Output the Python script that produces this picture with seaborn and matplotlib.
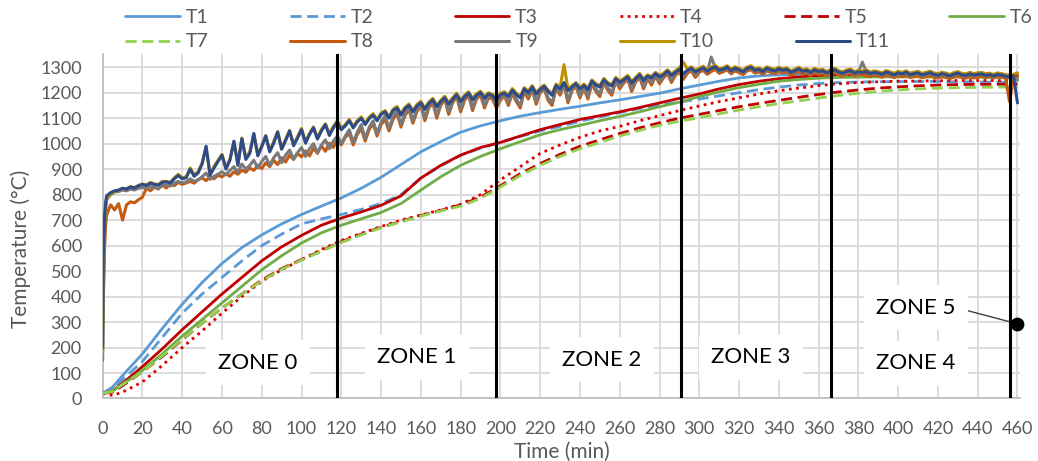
import numpy as np
import pandas as pd
import matplotlib
matplotlib.use("Agg")
import matplotlib.pyplot as plt
import seaborn as sns

# ---------------- data ----------------
# time grid (min) for the smooth thermocouple curves
t_smooth = [0, 5] + list(range(10, 461, 10))

T1 = [20, 45, 90, 175, 275, 370, 455, 530, 592, 642, 685, 722, 755, 787, 825, 868, 918, 968,
      1008, 1045, 1070, 1090, 1108, 1122, 1135, 1147, 1160, 1172, 1185, 1198, 1215, 1230,
      1245, 1258, 1266, 1270, 1272, 1273, 1272, 1271, 1270, 1270, 1269, 1268, 1268, 1267,
      1266, 1265]
T2 = [20, 38, 75, 145, 240, 335, 410, 475, 540, 600, 645, 685, 705, 722, 742, 765, 800, 865,
      912, 955, 982, 1005, 1028, 1050, 1068, 1088, 1105, 1122, 1138, 1152, 1163, 1175, 1188,
      1200, 1212, 1222, 1230, 1236, 1240, 1242, 1243, 1244, 1244, 1244, 1243, 1242, 1241,
      1240]
T3 = [20, 30, 60, 125, 195, 270, 340, 410, 475, 540, 595, 640, 680, 708, 732, 758, 795, 865,
      915, 955, 985, 1005, 1030, 1055, 1075, 1095, 1110, 1125, 1142, 1160, 1178, 1195, 1215,
      1232, 1245, 1255, 1262, 1267, 1270, 1271, 1272, 1272, 1272, 1272, 1272, 1271, 1270,
      1268]
T4 = [20, 12, 25, 65, 130, 200, 265, 335, 400, 460, 505, 545, 585, 620, 648, 675, 700, 720,
      740, 762, 800, 858, 910, 962, 995, 1025, 1050, 1068, 1090, 1110, 1130, 1148, 1165,
      1180, 1195, 1208, 1218, 1228, 1235, 1240, 1243, 1245, 1246, 1247, 1248, 1248, 1248,
      1248]
T5 = [20, 25, 50, 105, 165, 230, 295, 355, 410, 465, 510, 545, 580, 615, 645, 672, 695, 718,
      738, 760, 790, 835, 882, 922, 958, 990, 1015, 1040, 1062, 1082, 1100, 1115, 1130, 1145,
      1158, 1170, 1182, 1193, 1203, 1211, 1218, 1223, 1227, 1230, 1232, 1233, 1233, 1233]
T6 = [20, 30, 55, 110, 175, 245, 310, 375, 440, 505, 560, 610, 650, 680, 705, 730, 765, 818,
      870, 915, 950, 980, 1008, 1035, 1055, 1072, 1090, 1107, 1125, 1145, 1163, 1185, 1203,
      1220, 1233, 1245, 1252, 1257, 1260, 1261, 1262, 1262, 1262, 1261, 1261, 1260, 1259,
      1258]
T7 = [20, 28, 55, 105, 168, 232, 295, 355, 410, 462, 507, 543, 578, 612, 642, 670, 693, 716,
      736, 755, 785, 830, 875, 915, 950, 980, 1005, 1030, 1052, 1072, 1088, 1102, 1117, 1132,
      1145, 1157, 1168, 1179, 1189, 1198, 1205, 1211, 1215, 1218, 1220, 1221, 1222, 1222]

# time grid (min) for the furnace-gas thermocouples
t_fire = [0, 0.3, 0.7, 1, 1.5] + list(range(2, 461, 2))

T8 = [270, 380, 500, 600, 680,
      720, 760, 740, 765, 700, 760, 772, 768, 780, 790,
      825, 815, 830, 822, 838, 826, 842, 835, 848, 840,
      846, 852, 845, 858, 866, 855, 870, 862, 876, 870,
      882, 872, 890, 880, 896, 888, 905, 895, 915, 902,
      925, 910, 935, 918, 945, 928, 955, 938, 962, 948,
      972, 952, 982, 962, 992, 970, 1002, 985, 1015, 995,
      1025, 1040, 995, 1035, 1060, 1010, 1055, 1078, 1030, 1075,
      1095, 1050, 1095, 1118, 1065, 1110, 1135, 1080, 1125, 1150,
      1090, 1140, 1160, 1100, 1150, 1175, 1115, 1160, 1185, 1125,
      1170, 1190, 1130, 1175, 1190, 1140, 1180, 1175, 1140, 1170,
      1188, 1150, 1198, 1165, 1140, 1205, 1175, 1212, 1155, 1200,
      1215, 1170, 1150, 1218, 1190, 1230, 1160, 1208, 1225, 1180,
      1218, 1175, 1235, 1205, 1185, 1240, 1210, 1190, 1245, 1215,
      1238, 1252, 1205, 1242, 1260, 1215, 1254, 1230, 1265, 1235,
      1258, 1275, 1240, 1268, 1282, 1252, 1276, 1286, 1260, 1280,
      1288, 1272, 1283, 1292, 1276, 1282, 1290, 1274, 1286, 1279,
      1271, 1285, 1290, 1277, 1282, 1272, 1286, 1279, 1274, 1284,
      1277, 1282, 1269, 1275, 1284, 1273, 1278, 1268, 1280, 1272,
      1275, 1267, 1273, 1280, 1270, 1265, 1272, 1277, 1266, 1271,
      1273, 1266, 1264, 1269, 1266, 1261, 1270, 1265, 1259, 1267,
      1263, 1269, 1260, 1264, 1267, 1259, 1263, 1268, 1261, 1257,
      1264, 1260, 1255, 1262, 1266, 1259, 1257, 1263, 1258, 1261,
      1268, 1260, 1265, 1258, 1266, 1261, 1257, 1165, 1255, 1262]
T9 = [150, 400, 560, 660, 740,
      780, 800, 810, 812, 818, 815, 822, 818, 825, 828,
      825, 832, 828, 826, 835, 838, 834, 845, 852, 846,
      850, 862, 852, 858, 870, 885, 860, 872, 880, 890,
      878, 895, 910, 888, 920, 900, 915, 935, 905, 930,
      950, 915, 945, 965, 925, 955, 975, 940, 965, 985,
      950, 980, 1000, 965, 995, 1015, 980, 1010, 1030, 1000,
      1030, 1055, 1005, 1045, 1075, 1020, 1065, 1090, 1040, 1085,
      1110, 1060, 1105, 1130, 1075, 1120, 1145, 1090, 1135, 1160,
      1100, 1150, 1170, 1110, 1160, 1185, 1125, 1170, 1195, 1135,
      1180, 1200, 1140, 1185, 1200, 1150, 1190, 1185, 1150, 1180,
      1195, 1160, 1205, 1175, 1150, 1212, 1185, 1220, 1165, 1208,
      1222, 1180, 1160, 1225, 1200, 1238, 1170, 1215, 1232, 1190,
      1225, 1185, 1242, 1215, 1195, 1248, 1220, 1200, 1252, 1225,
      1246, 1260, 1215, 1250, 1268, 1225, 1262, 1240, 1273, 1245,
      1266, 1283, 1250, 1277, 1290, 1262, 1285, 1294, 1270, 1288,
      1296, 1280, 1340, 1300, 1284, 1290, 1298, 1282, 1294, 1287,
      1279, 1293, 1298, 1285, 1290, 1280, 1294, 1287, 1282, 1292,
      1285, 1290, 1277, 1283, 1292, 1281, 1286, 1276, 1288, 1280,
      1283, 1275, 1281, 1288, 1278, 1273, 1280, 1285, 1274, 1279,
      1320, 1281, 1272, 1277, 1274, 1269, 1278, 1273, 1267, 1275,
      1271, 1277, 1268, 1272, 1275, 1267, 1271, 1276, 1269, 1265,
      1272, 1268, 1263, 1270, 1274, 1267, 1265, 1271, 1266, 1269,
      1276, 1266, 1273, 1264, 1274, 1267, 1263, 1258, 1262, 1250]
T10 = [180, 480, 600, 690, 750,
       785, 802, 812, 816, 824, 823, 832, 828, 836, 842,
       838, 848, 842, 840, 852, 852, 848, 866, 880, 866,
       870, 905, 878, 890, 924, 985, 882, 910, 935, 958,
       906, 940, 1008, 920, 1022, 944, 968, 1038, 958, 992,
       1032, 972, 1008, 1048, 982, 1018, 1052, 998, 1028, 1060,
       1008, 1040, 1066, 1024, 1056, 1078, 1038, 1068, 1090, 1060,
       1075, 1095, 1068, 1090, 1105, 1080, 1104, 1118, 1095, 1120,
       1130, 1106, 1135, 1146, 1118, 1142, 1156, 1130, 1154, 1166,
       1140, 1163, 1178, 1150, 1170, 1186, 1160, 1180, 1198, 1170,
       1190, 1204, 1178, 1196, 1206, 1184, 1200, 1194, 1176, 1198,
       1204, 1190, 1216, 1198, 1186, 1220, 1206, 1228, 1200, 1218,
       1230, 1210, 1196, 1234, 1222, 1310, 1214, 1228, 1240, 1220,
       1234, 1218, 1250, 1236, 1228, 1256, 1240, 1232, 1260, 1246,
       1256, 1268, 1244, 1260, 1276, 1254, 1270, 1264, 1280, 1268,
       1276, 1290, 1274, 1286, 1298, 1320, 1294, 1302, 1288, 1296,
       1304, 1290, 1300, 1308, 1294, 1298, 1306, 1292, 1302, 1296,
       1288, 1301, 1306, 1294, 1298, 1289, 1302, 1296, 1291, 1300,
       1294, 1298, 1286, 1292, 1300, 1290, 1294, 1285, 1296, 1289,
       1292, 1284, 1290, 1296, 1287, 1282, 1289, 1293, 1283, 1288,
       1285, 1290, 1281, 1286, 1283, 1278, 1287, 1282, 1276, 1284,
       1280, 1286, 1277, 1281, 1284, 1276, 1280, 1285, 1278, 1274,
       1281, 1277, 1272, 1279, 1283, 1276, 1274, 1280, 1275, 1278,
       1280, 1274, 1277, 1272, 1278, 1275, 1271, 1268, 1272, 1278]
T11 = [200, 550, 650, 720, 770,
       795, 808, 815, 818, 825, 822, 830, 826, 835, 840,
       836, 845, 840, 838, 848, 850, 846, 862, 875, 862,
       866, 900, 872, 885, 920, 990, 876, 905, 930, 955,
       900, 935, 1010, 915, 1020, 938, 962, 1040, 952, 988,
       1030, 968, 1002, 1045, 978, 1012, 1050, 992, 1022, 1055,
       1002, 1036, 1062, 1018, 1050, 1075, 1032, 1062, 1085, 1055,
       1070, 1090, 1062, 1085, 1100, 1075, 1098, 1112, 1090, 1115,
       1125, 1100, 1130, 1140, 1112, 1138, 1150, 1125, 1148, 1160,
       1135, 1158, 1172, 1145, 1165, 1180, 1155, 1175, 1192, 1165,
       1185, 1198, 1172, 1190, 1200, 1178, 1195, 1188, 1170, 1192,
       1198, 1185, 1210, 1192, 1180, 1215, 1200, 1222, 1195, 1212,
       1225, 1205, 1190, 1228, 1215, 1240, 1208, 1222, 1235, 1215,
       1228, 1212, 1245, 1230, 1222, 1250, 1235, 1226, 1255, 1240,
       1250, 1262, 1238, 1255, 1270, 1248, 1265, 1258, 1275, 1262,
       1270, 1285, 1268, 1280, 1292, 1275, 1288, 1296, 1282, 1290,
       1298, 1284, 1295, 1302, 1288, 1292, 1300, 1286, 1296, 1290,
       1282, 1295, 1300, 1288, 1292, 1283, 1296, 1290, 1285, 1294,
       1288, 1292, 1280, 1286, 1294, 1284, 1288, 1279, 1290, 1283,
       1286, 1278, 1284, 1290, 1281, 1276, 1283, 1287, 1277, 1282,
       1279, 1284, 1275, 1280, 1277, 1272, 1281, 1276, 1270, 1278,
       1274, 1280, 1271, 1275, 1278, 1270, 1274, 1279, 1272, 1268,
       1275, 1271, 1266, 1273, 1277, 1270, 1268, 1274, 1269, 1272,
       1274, 1268, 1271, 1266, 1272, 1269, 1265, 1262, 1266, 1160]

series_names = ["T1", "T2", "T3", "T4", "T5", "T6", "T7", "T8", "T9", "T10", "T11"]

# zone boundaries (min) and zone labels
zone_bounds = [118, 198, 291, 366, 456]
zone_labels = ["ZONE 0", "ZONE 1", "ZONE 2", "ZONE 3", "ZONE 4"]
zone_label_t = [78, 158, 251, 326, 409]
zone_label_T = [141, 161, 153, 161, 139]
zone5_label = "ZONE 5"
zone5_text_at = (409, 357)
zone5_point = (460, 293)

x_ticks = list(range(0, 461, 20))
y_ticks = list(range(0, 1301, 100))

# ---------------- styling ----------------
sns.set_theme(style="white")
plt.rcParams["font.family"] = ["Lato", "DejaVu Sans"]

styles = {
    "T1": dict(color="#5B9BD5", ls="-", lw=2.0),
    "T2": dict(color="#5B9BD5", ls=(0, (4, 2)), lw=2.0),
    "T3": dict(color="#C00000", ls="-", lw=2.0),
    "T4": dict(color="#E00000", ls=(0, (1, 1.6)), lw=2.0),
    "T5": dict(color="#C00000", ls=(0, (4, 2)), lw=2.0),
    "T6": dict(color="#70AD47", ls="-", lw=2.0),
    "T7": dict(color="#92D050", ls=(0, (4, 2)), lw=2.0),
    "T8": dict(color="#C55A11", ls="-", lw=2.2),
    "T9": dict(color="#7A7A7A", ls="-", lw=2.2),
    "T10": dict(color="#BF9000", ls="-", lw=2.2),
    "T11": dict(color="#2F4B87", ls="-", lw=2.2),
}
data = {"T1": (t_smooth, T1), "T2": (t_smooth, T2), "T3": (t_smooth, T3),
        "T4": (t_smooth, T4), "T5": (t_smooth, T5), "T6": (t_smooth, T6),
        "T7": (t_smooth, T7), "T8": (t_fire, T8), "T9": (t_fire, T9),
        "T10": (t_fire, T10), "T11": (t_fire, T11)}

fig = plt.figure(figsize=(10.38, 4.61), dpi=100)
ax = fig.add_axes([0.0989, 0.1356, 0.8842, 0.7473])

handles = {}
for name in series_names:
    tt, vv = data[name]
    df = pd.DataFrame({"t": tt, "T": vv})
    st = styles[name]
    sns.lineplot(data=df, x="t", y="T", ax=ax, color=st["color"], linestyle=st["ls"],
                 lw=st["lw"], estimator=None, sort=False, legend=False, zorder=3)
    handles[name] = ax.lines[-1]

# zone separators
for b in zone_bounds:
    ax.axvline(b, color="black", lw=2.2, zorder=4)

# zone labels
for lab, tx, ty in zip(zone_labels, zone_label_t, zone_label_T):
    ax.text(tx, ty, lab, ha="center", va="center", fontsize=16, color="black", zorder=2,
            bbox=dict(facecolor="white", edgecolor="none", pad=9))
ax.annotate(zone5_label, xy=zone5_point, xytext=zone5_text_at, ha="center", va="center",
            fontsize=16, color="black", zorder=2,
            bbox=dict(facecolor="white", edgecolor="none", pad=9),
            arrowprops=dict(arrowstyle="-", color="#404040", lw=1.0,
                            shrinkA=0, shrinkB=0, relpos=(1.0, 0.5)))
ax.scatter([zone5_point[0]], [zone5_point[1]], s=80, color="black", zorder=5, clip_on=False)

# axes
ax.set_xlim(0, 461.5)
ax.set_ylim(0, 1352)
ax.set_xticks(x_ticks)
ax.set_yticks(y_ticks)
ax.grid(True, color="#D9D9D9", lw=1.3)
ax.set_axisbelow(True)
for s in ["top", "right"]:
    ax.spines[s].set_visible(False)
for s in ["left", "bottom"]:
    ax.spines[s].set_color("#BFBFBF")
    ax.spines[s].set_linewidth(1.3)
ax.tick_params(axis="both", length=0, labelsize=13, labelcolor="#595959")
ax.tick_params(axis="x", pad=16)
ax.tick_params(axis="y", pad=15)
ax.set_xlabel("Time (min)", fontsize=15, color="#595959")
ax.set_ylabel("Temperature (°C)", fontsize=15, color="#595959")
ax.xaxis.set_label_coords(0.5, -0.155)
ax.xaxis.label.set_va("center")
ax.yaxis.set_label_coords(-0.089, 0.433)
ax.yaxis.label.set_va("center")

# legend: two rows
leg_kw = dict(loc="center left", frameon=False, fontsize=14, handlelength=2.8,
              handletextpad=0.3, columnspacing=4.2, borderpad=0, borderaxespad=0,
              labelcolor="#595959")
row1 = series_names[:6]
row2 = series_names[6:]
fig.legend([handles[n] for n in row1], row1, ncol=6, bbox_to_anchor=(0.1209, 0.963), **leg_kw)
fig.legend([handles[n] for n in row2], row2, ncol=5, bbox_to_anchor=(0.1209, 0.909), **leg_kw)

fig.savefig("out.png", dpi=100)
